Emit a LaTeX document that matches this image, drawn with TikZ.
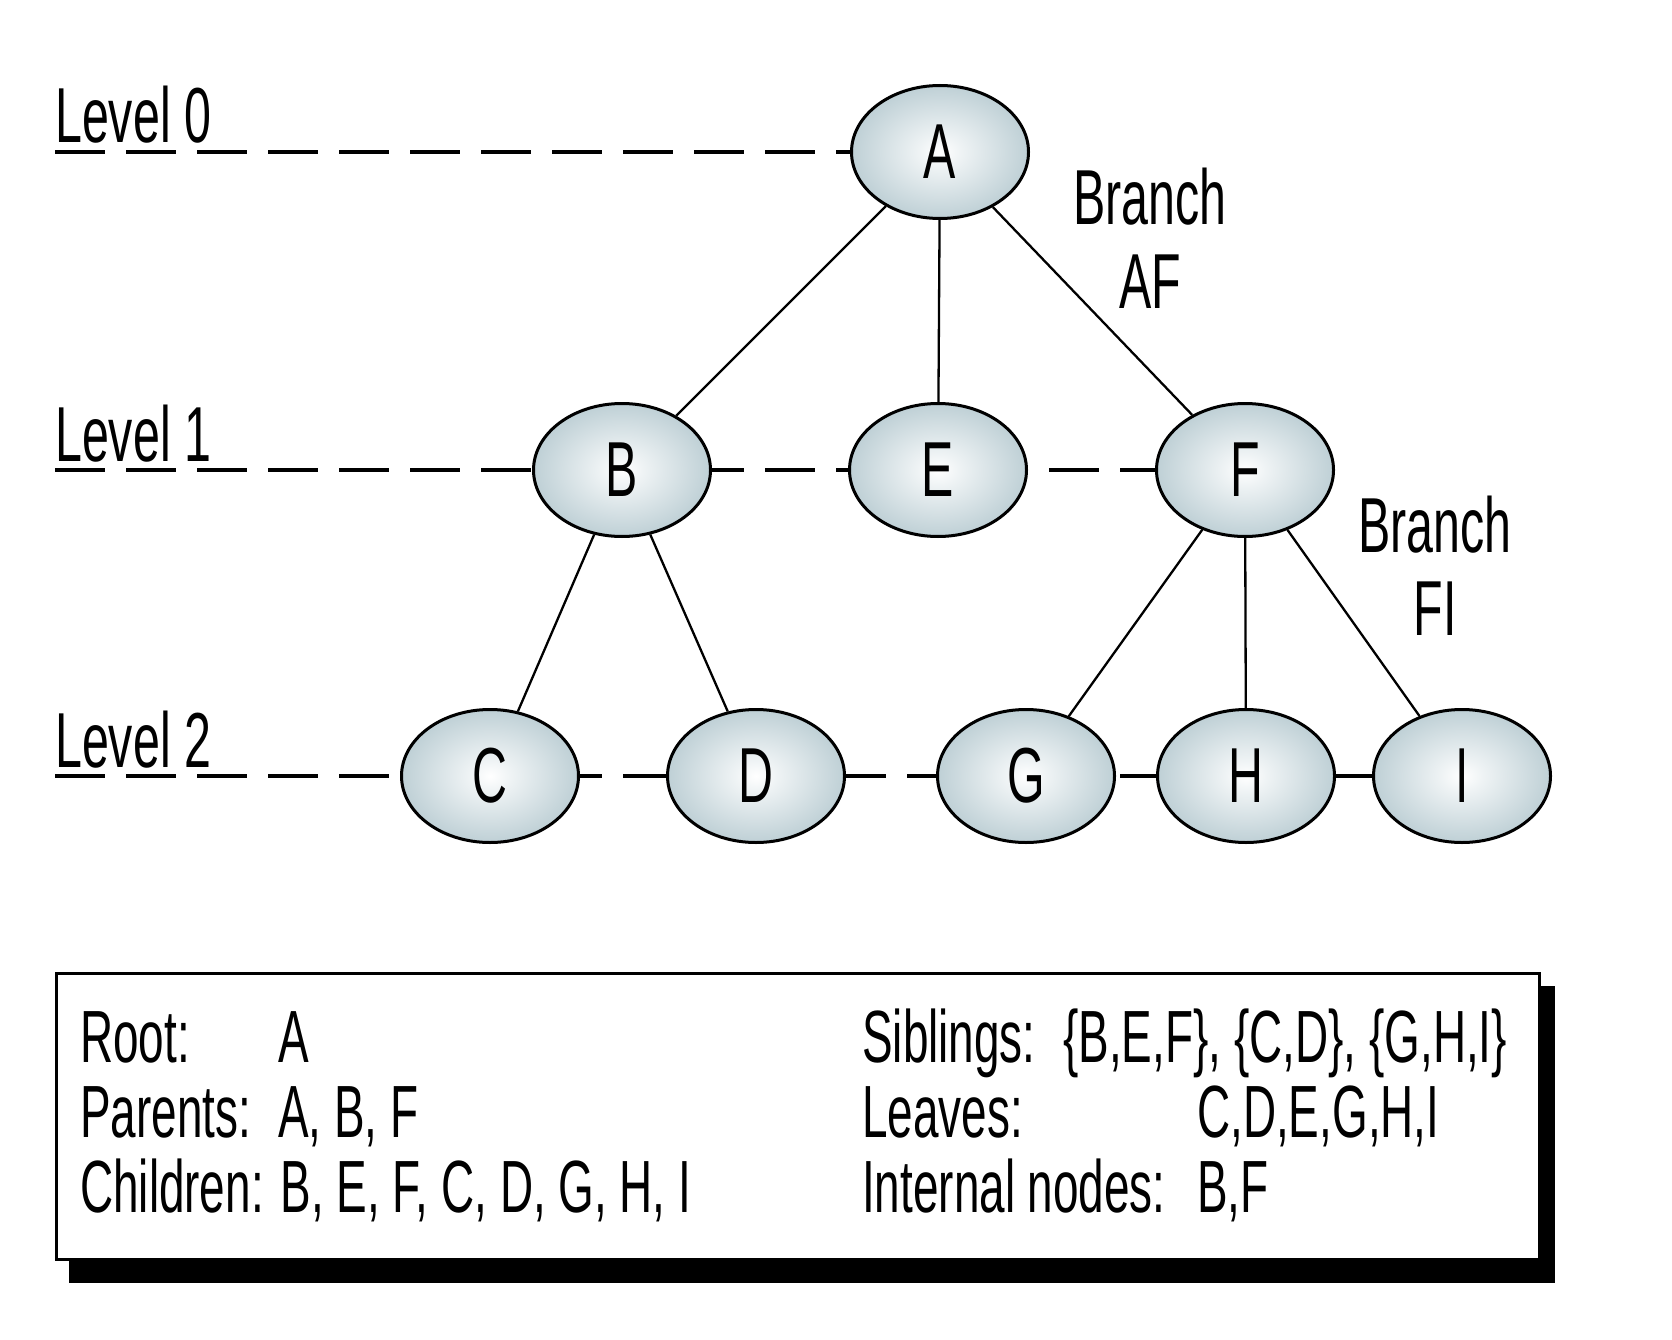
\documentclass[tikz,border=0pt]{standalone}
\usepackage{fontspec}
\setmainfont{Liberation Sans}[FakeStretch=0.62]
\usetikzlibrary{shapes.geometric,backgrounds}
\definecolor{nodeblue}{RGB}{188,206,212}
\pgfdeclareradialshading{nodeshade}{\pgfpoint{0bp}{0bp}}{color(0bp)=(white); color(6bp)=(white!75!nodeblue); color(26bp)=(nodeblue); color(50bp)=(nodeblue)}
\begin{document}
\begin{tikzpicture}[x=1pt, y=-1pt,
  treenode/.style={ellipse, draw=black, line width=3pt, shading=nodeshade,
    minimum width=177pt, minimum height=133pt, inner sep=0pt,
    font=\fontsize{78}{80}\selectfont},
  edge/.style={line width=2.3pt},
  levelline/.style={line width=4pt, dash pattern=on 50pt off 21pt},
  lbl/.style={anchor=base west, inner sep=0pt, font=\fontsize{78}{80}\selectfont},
  branchtxt/.style={anchor=base, inner sep=0pt, font=\fontsize{78}{80}\selectfont},
  boxtxt/.style={anchor=base west, inner sep=0pt, font=\fontsize{74}{75}\selectfont}]
\useasboundingbox (0,0) rectangle (1672,1340);

% tree nodes
\node[treenode] (A) at (940,152) {A};
\node[treenode] (B) at (622,470) {B};
\node[treenode] (E) at (938,470) {E};
\node[treenode] (F) at (1245,470) {F};
\node[treenode] (C) at (490,776) {C};
\node[treenode] (D) at (756,776) {D};
\node[treenode] (G) at (1026,776) {G};
\node[treenode] (H) at (1246,776) {H};
\node[treenode] (I) at (1462,776) {I};

% level labels
\coordinate (L0) at (55,152);
\coordinate (L1) at (55,470);
\coordinate (L2) at (55,776);
\node[lbl] (lev0) at (55,143) {Level 0};
\node[lbl] (lev1) at (55,461) {Level 1};
\node[lbl] (lev2) at (55,767) {Level 2};

\begin{pgfonlayer}{background}
\draw[levelline] (L0) -- (A.center);
\draw[levelline] (L1) -- (F.center);
\draw[levelline] (L2) -- (I.center);
\end{pgfonlayer}

% edges
\draw[edge] (A) -- (B);
\draw[edge] (A) -- (E);
\draw[edge] (A) -- (F);
\draw[edge] (B) -- (C);
\draw[edge] (B) -- (D);
\draw[edge] (F) -- (G);
\draw[edge] (F) -- (H);
\draw[edge] (F) -- (I);

% branch labels
\node[branchtxt] (brAFa) at (1150,225) {Branch};
\node[branchtxt] (brAFb) at (1150,308) {AF};
\node[branchtxt] (brFIa) at (1435,552) {Branch};
\node[branchtxt] (brFIb) at (1435,635) {FI};

% legend box
\node[rectangle, fill=black, minimum width=1486pt, minimum height=297pt,
  inner sep=0pt, anchor=north west] (shadow) at (69,986) {};
\node[rectangle, draw=black, line width=3pt, fill=white, minimum width=1483pt,
  minimum height=286pt, inner sep=0pt, anchor=north west] (legend) at (55,972) {};

\node[boxtxt] (root) at (80,1062) {Root:};
\node[boxtxt] (rootv) at (278,1062) {A};
\node[boxtxt] (par) at (80,1137) {Parents:};
\node[boxtxt] (parv) at (278,1137) {A, B, F};
\node[boxtxt] (chi) at (80,1212) {Children: B, E, F, C, D, G, H, I};
\node[boxtxt] (sib) at (862,1062) {Siblings:};
\node[boxtxt] (sibv) at (1063,1062) {\{B,E,F\}, \{C,D\}, \{G,H,I\}};
\node[boxtxt] (lea) at (862,1137) {Leaves:};
\node[boxtxt] (leav) at (1197,1137) {C,D,E,G,H,I};
\node[boxtxt] (inn) at (862,1212) {Internal nodes:};
\node[boxtxt] (innv) at (1197,1212) {B,F};
\end{tikzpicture}
\end{document}
